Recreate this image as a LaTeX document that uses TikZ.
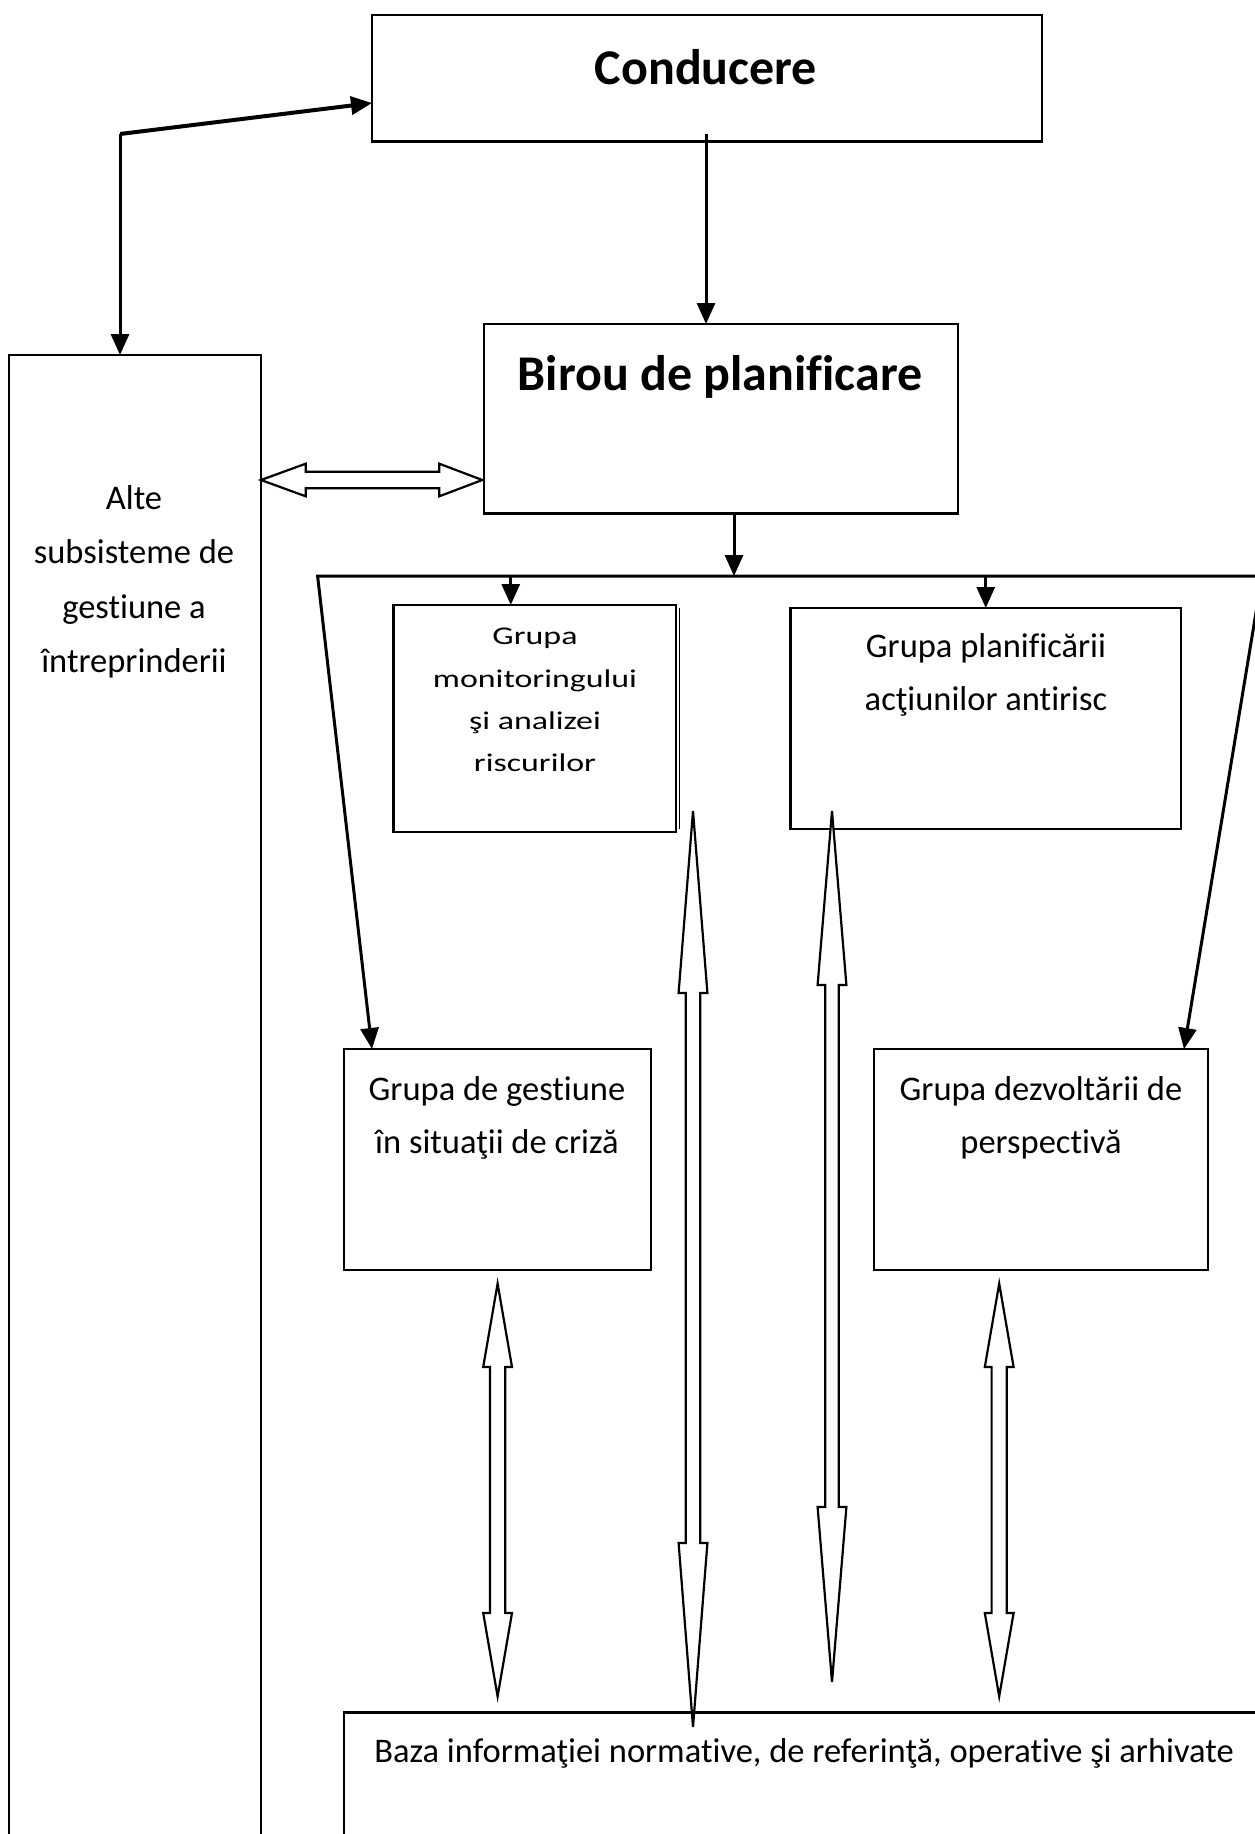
\documentclass[tikz,border=0pt]{standalone}
\usepackage{fontspec}
\setmainfont{Carlito}[Ligatures={NoCommon}]
\newfontfamily\widefont[FakeStretch=1.33,Ligatures={NoCommon}]{Carlito}
\usetikzlibrary{arrows.meta,calc}

% vertical hollow double arrow: x, top tip, top head base, bottom head base, bottom tip, head half-width, shaft half-width
\newcommand{\vdblarrow}[7]{%
  \draw[blockarrow] (#1,#2) -- (#1+#6,#3) -- (#1+#7,#3) -- (#1+#7,#4) -- (#1+#6,#4) -- (#1,#5)
    -- (#1-#6,#4) -- (#1-#7,#4) -- (#1-#7,#3) -- (#1-#6,#3) -- cycle;}

\begin{document}
\begin{tikzpicture}[x=1pt,y=-1pt,
  box/.style={draw, line width=2.4pt, rectangle, inner sep=0pt, outer sep=0pt, anchor=north west},
  thinbox/.style={box, line width=1.8pt},
  txt/.style={inner sep=0pt, anchor=base, font=\fontsize{34.5}{40}\selectfont},
  boldtxt/.style={inner sep=0pt, anchor=base, font=\fontsize{50}{60}\selectfont\bfseries},
  smalltxt/.style={inner sep=0pt, anchor=base, font=\widefont\fontsize{25.5}{30}\selectfont},
  conn/.style={draw, line width=3pt, -{Triangle[length=21pt,width=18pt]}},
  blockarrow/.style={draw, line width=2.2pt, fill=white, line join=miter}]

\useasboundingbox (0,0) rectangle (1255,1834);
\clip (0,0) rectangle (1255,1834);

% boxes
\node[box, minimum width=670pt, minimum height=126.5pt] (cond) at (372,15) {};
\node[box, minimum width=474pt, minimum height=189.5pt] (birou) at (484,324) {};
\node[thinbox, minimum width=252pt, minimum height=1520pt] (alte) at (9,355) {};
\node[box, minimum width=282.5pt, minimum height=227pt] (monit) at (393.5,605) {};
\node[box, minimum width=390.5pt, minimum height=221pt] (plan) at (790.5,608) {};
\node[box, minimum width=307pt, minimum height=221pt] (criza) at (344,1049) {};
\node[box, minimum width=334pt, minimum height=221pt] (persp) at (874,1049) {};
\node[box, minimum width=960pt, minimum height=300pt] (baza) at (344,1712.5) {};

% shadow edge of the monitoring box
\draw[line width=1.4pt] ($(monit.north east)+(3.5,3)$) -- ($(monit.south east)+(3.5,-3)$);

% texts
\node[boldtxt] (cond-t) at (706,84) {Conducere};
\node[boldtxt] (birou-t) at (720,390) {Birou de planificare};

\node[txt] (alte-t1) at (134,509) {Alte};
\node[txt] (alte-t2) at (134,563.5) {subsisteme de};
\node[txt] (alte-t3) at (134,618) {gestiune a};
\node[txt] (alte-t4) at (134,672) {întreprinderii};

\node[smalltxt] (monit-t1) at (535,644) {Grupa};
\node[smalltxt] (monit-t2) at (535,687) {monitoringului};
\node[smalltxt] (monit-t3) at (535,729) {şi analizei};
\node[smalltxt] (monit-t4) at (535,771) {riscurilor};

\node[txt] (plan-t1) at (986,657) {Grupa planificării};
\node[txt] (plan-t2) at (986,710.5) {acţiunilor antirisc};

\node[txt] (criza-t1) at (497,1100) {Grupa de gestiune};
\node[txt] (criza-t2) at (497,1153) {în situaţii de criză};

\node[txt] (persp-t1) at (1041,1100) {Grupa dezvoltării de};
\node[txt] (persp-t2) at (1041,1153) {perspectivă};

\node[txt] (baza-t) at (804,1762) {Baza informaţiei normative, de referinţă, operative şi arhivate};

% connectors
\coordinate (corner) at (120,134);
\draw[conn, line width=4pt] (corner) -- ($(cond.north west)+(0,88)$);
\draw[conn, line width=3pt] (corner) -- ($(alte.north west)+(111,0)$);

\draw[conn] ($(cond.south west)+(334,-8)$) -- ($(birou.north west)+(222,0)$);

\coordinate (busL) at (317.6,576);
\coordinate (busR) at (1262,576);
\coordinate (busB) at (734,576);
\draw[conn] ($(birou.south west)+(250,0)$) -- (busB);
\draw[conn, {Triangle[length=21pt,width=18pt]}-{Triangle[length=21pt,width=18pt]}]
  ($(criza.north west)+(28,0)$) -- (busL) -- (busR) -- ($(persp.north west)+(310,0)$);
\draw[conn] ($(busL)!(monit.north)!(busR)+(-24,0)$) -- ($(monit.north)+(-24,0)$);
\draw[conn] ($(busL)!(plan.north)!(busR)$) -- (plan.north);

% hollow double arrows
\draw[blockarrow] (261,480) -- (305.7,463.7) -- (305.7,471.7) -- (439.3,471.7) -- (439.3,463.7)
  -- (482.3,480) -- (439.3,496.3) -- (439.3,488.3) -- (305.7,488.3) -- (305.7,496.3) -- cycle;
\vdblarrow{693}{811}{993}{1543}{1727}{14.4}{7.2}
\vdblarrow{832}{811}{985}{1507}{1682}{14.4}{6.8}
\vdblarrow{497.6}{1283.6}{1367}{1613}{1696.4}{14.4}{7.6}
\vdblarrow{999.2}{1283.6}{1367}{1613}{1696.4}{14.4}{7.6}

\end{tikzpicture}
\end{document}
